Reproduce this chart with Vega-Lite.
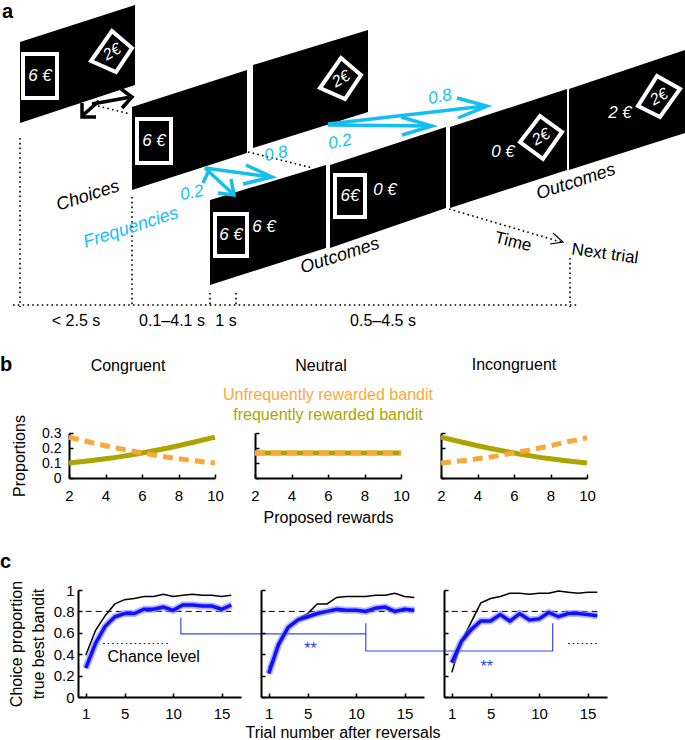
{
"$schema":"https://vega.github.io/schema/vega-lite/v6.json",
"padding":0,
"background":"white",
"bounds":"flush",
"spacing":157,
"config":{
 "view":{"stroke":null},
 "font":"Liberation Sans",
 "axis":{"domainColor":"black","domainWidth":2,"tickColor":"black","tickWidth":1.5,"tickSize":-4,"labelFontSize":15,"labelColor":"black","titleFontSize":16,"titleFontWeight":"normal","titleColor":"black","grid":false,"labelFont":"Liberation Sans","titleFont":"Liberation Sans","format":"~r","labelOverlap":false,"labelFlush":false},
 "title":{"fontSize":16,"fontWeight":"normal","color":"black","font":"Liberation Sans"},
 "text":{"font":"Liberation Sans"}
},
"datasets":{
 "scr":[
  {"id":"S1","x":20,"y":42,"y2":123},{"id":"S1","x":135,"y":5,"y2":85},
  {"id":"S2","x":132,"y":107,"y2":190},{"id":"S2","x":247,"y":70,"y2":153},
  {"id":"S3","x":253,"y":65,"y2":148},{"id":"S3","x":368,"y":30,"y2":112},
  {"id":"S4","x":210,"y":200,"y2":285},{"id":"S4","x":326,"y":165,"y2":248},
  {"id":"S5","x":330,"y":165,"y2":248},{"id":"S5","x":446,"y":127,"y2":208},
  {"id":"S6","x":450,"y":127,"y2":208},{"id":"S6","x":567,"y":89,"y2":170},
  {"id":"S7","x":569,"y":89,"y2":170},{"id":"S7","x":685,"y":50,"y2":133}],
 "cards":[{"x":23,"x2":57,"y":54,"y2":98},{"x":137,"x2":171,"y":119,"y2":163},{"x":215,"x2":247,"y":214,"y2":256},{"x":335,"x2":365,"y":175,"y2":217}],
 "dia":[
  {"id":"D1","ord":1,"x":112,"y":31},{"id":"D1","ord":2,"x":132,"y":48},{"id":"D1","ord":3,"x":116,"y":72},{"id":"D1","ord":4,"x":91,"y":61},{"id":"D1","ord":5,"x":112,"y":31},
  {"id":"D3","ord":1,"x":341,"y":58},{"id":"D3","ord":2,"x":361,"y":75},{"id":"D3","ord":3,"x":345,"y":99},{"id":"D3","ord":4,"x":320,"y":88},{"id":"D3","ord":5,"x":341,"y":58},
  {"id":"D6","ord":1,"x":540,"y":116},{"id":"D6","ord":2,"x":562,"y":132},{"id":"D6","ord":3,"x":543,"y":159},{"id":"D6","ord":4,"x":520,"y":142},{"id":"D6","ord":5,"x":540,"y":116},
  {"id":"D7","ord":1,"x":657,"y":76},{"id":"D7","ord":2,"x":680,"y":89},{"id":"D7","ord":3,"x":660,"y":117},{"id":"D7","ord":4,"x":638,"y":106},{"id":"D7","ord":5,"x":657,"y":76}],
 "arr":[
  {"id":"A1s","g":"k","ord":1,"x":99,"y":101},{"id":"A1s","g":"k","ord":2,"x":82,"y":116},
  {"id":"A1h","g":"k","ord":1,"x":82,"y":103},{"id":"A1h","g":"k","ord":2,"x":82,"y":117},{"id":"A1h","g":"k","ord":3,"x":96,"y":117},
  {"id":"A2s","g":"k","ord":1,"x":92,"y":104},{"id":"A2s","g":"k","ord":2,"x":131,"y":97},
  {"id":"A2h","g":"k","ord":1,"x":121,"y":89},{"id":"A2h","g":"k","ord":2,"x":132,"y":97},{"id":"A2h","g":"k","ord":3,"x":122,"y":108},
  {"id":"C1z","g":"c","ord":1,"x":203,"y":183},{"id":"C1z","g":"c","ord":2,"x":210,"y":168},
  {"id":"C1s","g":"c","ord":1,"x":205,"y":168},{"id":"C1s","g":"c","ord":2,"x":233,"y":194},
  {"id":"C1h","g":"c","ord":1,"x":231,"y":179},{"id":"C1h","g":"c","ord":2,"x":234,"y":195},{"id":"C1h","g":"c","ord":3,"x":218,"y":193},
  {"id":"C2s","g":"c","ord":1,"x":205,"y":168},{"id":"C2s","g":"c","ord":2,"x":270,"y":177},
  {"id":"C2h","g":"c","ord":1,"x":246,"y":165},{"id":"C2h","g":"c","ord":2,"x":272,"y":177},{"id":"C2h","g":"c","ord":3,"x":243,"y":184},
  {"id":"C3s","g":"c","ord":1,"x":328,"y":124},{"id":"C3s","g":"c","ord":2,"x":485,"y":106},
  {"id":"C3h","g":"c","ord":1,"x":457,"y":98},{"id":"C3h","g":"c","ord":2,"x":487,"y":106},{"id":"C3h","g":"c","ord":3,"x":458,"y":118},
  {"id":"C4s","g":"c","ord":1,"x":328,"y":125},{"id":"C4s","g":"c","ord":2,"x":430,"y":126},
  {"id":"C4h","g":"c","ord":1,"x":401,"y":117},{"id":"C4h","g":"c","ord":2,"x":432,"y":126},{"id":"C4h","g":"c","ord":3,"x":402,"y":135},
  {"id":"Th","g":"t","ord":1,"x":553,"y":233},{"id":"Th","g":"t","ord":2,"x":563,"y":242},{"id":"Th","g":"t","ord":3,"x":550,"y":244}],
 "dot":[
  {"id":"H","ord":1,"x":13,"y":305},{"id":"H","ord":2,"x":578,"y":305},
  {"id":"V1","ord":1,"x":20,"y":138},{"id":"V1","ord":2,"x":20,"y":307},
  {"id":"V2","ord":1,"x":132,"y":197},{"id":"V2","ord":2,"x":132,"y":307},
  {"id":"V3","ord":1,"x":210,"y":293},{"id":"V3","ord":2,"x":210,"y":307},
  {"id":"V4","ord":1,"x":236,"y":293},{"id":"V4","ord":2,"x":236,"y":307},
  {"id":"V5","ord":1,"x":570,"y":258},{"id":"V5","ord":2,"x":570,"y":307},
  {"id":"P1","ord":1,"x":248,"y":152},{"id":"P1","ord":2,"x":313,"y":168},
  {"id":"P2","ord":1,"x":98,"y":106},{"id":"P2","ord":2,"x":130,"y":114},
  {"id":"T","ord":1,"x":449,"y":209},{"id":"T","ord":2,"x":561,"y":242}],
 "txt":[
  {"s":"letter","label":"a","x":2,"y":12},
  {"s":"card","label":"6 €","x":40,"y":76},{"s":"card","label":"6 €","x":154,"y":141},{"s":"card","label":"6 €","x":231,"y":235},{"s":"card","label":"6 €","x":264,"y":227},
  {"s":"card","label":"6€","x":350,"y":196},{"s":"card","label":"0 €","x":385,"y":190},{"s":"card","label":"0 €","x":503,"y":152},{"s":"card","label":"2 €","x":620,"y":113},
  {"s":"dia","label":"2€","x":112,"y":52},{"s":"dia","label":"2€","x":341,"y":79},{"s":"dia","label":"2€","x":541,"y":137},{"s":"dia","label":"2€","x":659,"y":97},
  {"s":"tilt","label":"Choices","x":88,"y":196},{"s":"tilt","label":"Outcomes","x":340,"y":256},{"s":"tilt","label":"Outcomes","x":576,"y":182},
  {"s":"freq","label":"Frequencies","x":131,"y":228},
  {"s":"prob","label":"0.2","x":192,"y":193},{"s":"prob","label":"0.8","x":276,"y":154},{"s":"prob","label":"0.2","x":340,"y":142},{"s":"prob","label":"0.8","x":440,"y":97},
  {"s":"time","label":"Time","x":513,"y":242},
  {"s":"next","label":"Next trial","x":605,"y":254},
  {"s":"dur","label":"< 2.5 s","x":76,"y":321},{"s":"dur","label":"0.1–4.1 s","x":172,"y":321},{"s":"dur","label":"1 s","x":226,"y":321},{"s":"dur","label":"0.5–4.5 s","x":383,"y":321}],
 "bd":[
  {"cond":"Congruent","b":"F","r":2,"p":0.100},{"cond":"Congruent","b":"F","r":3,"p":0.113},{"cond":"Congruent","b":"F","r":4,"p":0.128},{"cond":"Congruent","b":"F","r":5,"p":0.146},{"cond":"Congruent","b":"F","r":6,"p":0.167},{"cond":"Congruent","b":"F","r":7,"p":0.190},{"cond":"Congruent","b":"F","r":8,"p":0.215},{"cond":"Congruent","b":"F","r":9,"p":0.243},{"cond":"Congruent","b":"F","r":10,"p":0.272},
  {"cond":"Congruent","b":"U","r":2,"p":0.272},{"cond":"Congruent","b":"U","r":3,"p":0.243},{"cond":"Congruent","b":"U","r":4,"p":0.215},{"cond":"Congruent","b":"U","r":5,"p":0.190},{"cond":"Congruent","b":"U","r":6,"p":0.167},{"cond":"Congruent","b":"U","r":7,"p":0.146},{"cond":"Congruent","b":"U","r":8,"p":0.128},{"cond":"Congruent","b":"U","r":9,"p":0.113},{"cond":"Congruent","b":"U","r":10,"p":0.100},
  {"cond":"Neutral","b":"F","r":2,"p":0.167},{"cond":"Neutral","b":"F","r":4,"p":0.167},{"cond":"Neutral","b":"F","r":6,"p":0.167},{"cond":"Neutral","b":"F","r":8,"p":0.167},{"cond":"Neutral","b":"F","r":10,"p":0.167},
  {"cond":"Neutral","b":"U","r":2,"p":0.167},{"cond":"Neutral","b":"U","r":4,"p":0.167},{"cond":"Neutral","b":"U","r":6,"p":0.167},{"cond":"Neutral","b":"U","r":8,"p":0.167},{"cond":"Neutral","b":"U","r":10,"p":0.167},
  {"cond":"Incongruent","b":"F","r":2,"p":0.272},{"cond":"Incongruent","b":"F","r":3,"p":0.243},{"cond":"Incongruent","b":"F","r":4,"p":0.215},{"cond":"Incongruent","b":"F","r":5,"p":0.190},{"cond":"Incongruent","b":"F","r":6,"p":0.167},{"cond":"Incongruent","b":"F","r":7,"p":0.146},{"cond":"Incongruent","b":"F","r":8,"p":0.128},{"cond":"Incongruent","b":"F","r":9,"p":0.113},{"cond":"Incongruent","b":"F","r":10,"p":0.100},
  {"cond":"Incongruent","b":"U","r":2,"p":0.100},{"cond":"Incongruent","b":"U","r":3,"p":0.113},{"cond":"Incongruent","b":"U","r":4,"p":0.128},{"cond":"Incongruent","b":"U","r":5,"p":0.146},{"cond":"Incongruent","b":"U","r":6,"p":0.167},{"cond":"Incongruent","b":"U","r":7,"p":0.190},{"cond":"Incongruent","b":"U","r":8,"p":0.215},{"cond":"Incongruent","b":"U","r":9,"p":0.243},{"cond":"Incongruent","b":"U","r":10,"p":0.268}],
 "bleg":[{"b":"U","label":"Unfrequently rewarded bandit","r":6,"p":0.553},{"b":"F","label":"frequently rewarded bandit","r":6,"p":0.42}],
 "cd":[
  {"cond":"Congruent","s":"ideal","t":1,"p":0.39},{"cond":"Congruent","s":"ideal","t":2,"p":0.62},{"cond":"Congruent","s":"ideal","t":3,"p":0.76},{"cond":"Congruent","s":"ideal","t":4,"p":0.87},{"cond":"Congruent","s":"ideal","t":5,"p":0.91},{"cond":"Congruent","s":"ideal","t":6,"p":0.92},{"cond":"Congruent","s":"ideal","t":7,"p":0.94},{"cond":"Congruent","s":"ideal","t":8,"p":0.94},{"cond":"Congruent","s":"ideal","t":9,"p":0.96},{"cond":"Congruent","s":"ideal","t":10,"p":0.94},{"cond":"Congruent","s":"ideal","t":11,"p":0.95},{"cond":"Congruent","s":"ideal","t":12,"p":0.96},{"cond":"Congruent","s":"ideal","t":13,"p":0.95},{"cond":"Congruent","s":"ideal","t":14,"p":0.95},{"cond":"Congruent","s":"ideal","t":15,"p":0.94},{"cond":"Congruent","s":"ideal","t":16,"p":0.95},
  {"cond":"Congruent","s":"subj","t":1,"p":0.27},{"cond":"Congruent","s":"subj","t":2,"p":0.50},{"cond":"Congruent","s":"subj","t":3,"p":0.66},{"cond":"Congruent","s":"subj","t":4,"p":0.75},{"cond":"Congruent","s":"subj","t":5,"p":0.78},{"cond":"Congruent","s":"subj","t":6,"p":0.78},{"cond":"Congruent","s":"subj","t":7,"p":0.82},{"cond":"Congruent","s":"subj","t":8,"p":0.82},{"cond":"Congruent","s":"subj","t":9,"p":0.84},{"cond":"Congruent","s":"subj","t":10,"p":0.81},{"cond":"Congruent","s":"subj","t":11,"p":0.86},{"cond":"Congruent","s":"subj","t":12,"p":0.86},{"cond":"Congruent","s":"subj","t":13,"p":0.85},{"cond":"Congruent","s":"subj","t":14,"p":0.85},{"cond":"Congruent","s":"subj","t":15,"p":0.82},{"cond":"Congruent","s":"subj","t":16,"p":0.86},
  {"cond":"Neutral","s":"ideal","t":1,"p":0.27},{"cond":"Neutral","s":"ideal","t":2,"p":0.47},{"cond":"Neutral","s":"ideal","t":3,"p":0.66},{"cond":"Neutral","s":"ideal","t":4,"p":0.73},{"cond":"Neutral","s":"ideal","t":5,"p":0.78},{"cond":"Neutral","s":"ideal","t":6,"p":0.87},{"cond":"Neutral","s":"ideal","t":7,"p":0.87},{"cond":"Neutral","s":"ideal","t":8,"p":0.93},{"cond":"Neutral","s":"ideal","t":9,"p":0.94},{"cond":"Neutral","s":"ideal","t":10,"p":0.94},{"cond":"Neutral","s":"ideal","t":11,"p":0.94},{"cond":"Neutral","s":"ideal","t":12,"p":0.95},{"cond":"Neutral","s":"ideal","t":13,"p":0.95},{"cond":"Neutral","s":"ideal","t":14,"p":0.97},{"cond":"Neutral","s":"ideal","t":15,"p":0.94},{"cond":"Neutral","s":"ideal","t":16,"p":0.93},
  {"cond":"Neutral","s":"subj","t":1,"p":0.22},{"cond":"Neutral","s":"subj","t":2,"p":0.49},{"cond":"Neutral","s":"subj","t":3,"p":0.65},{"cond":"Neutral","s":"subj","t":4,"p":0.72},{"cond":"Neutral","s":"subj","t":5,"p":0.75},{"cond":"Neutral","s":"subj","t":6,"p":0.78},{"cond":"Neutral","s":"subj","t":7,"p":0.80},{"cond":"Neutral","s":"subj","t":8,"p":0.82},{"cond":"Neutral","s":"subj","t":9,"p":0.81},{"cond":"Neutral","s":"subj","t":10,"p":0.81},{"cond":"Neutral","s":"subj","t":11,"p":0.80},{"cond":"Neutral","s":"subj","t":12,"p":0.83},{"cond":"Neutral","s":"subj","t":13,"p":0.84},{"cond":"Neutral","s":"subj","t":14,"p":0.80},{"cond":"Neutral","s":"subj","t":15,"p":0.82},{"cond":"Neutral","s":"subj","t":16,"p":0.81},
  {"cond":"Incongruent","s":"ideal","t":1,"p":0.23},{"cond":"Incongruent","s":"ideal","t":2,"p":0.52},{"cond":"Incongruent","s":"ideal","t":3,"p":0.70},{"cond":"Incongruent","s":"ideal","t":4,"p":0.88},{"cond":"Incongruent","s":"ideal","t":5,"p":0.92},{"cond":"Incongruent","s":"ideal","t":6,"p":0.94},{"cond":"Incongruent","s":"ideal","t":7,"p":0.97},{"cond":"Incongruent","s":"ideal","t":8,"p":0.97},{"cond":"Incongruent","s":"ideal","t":9,"p":0.96},{"cond":"Incongruent","s":"ideal","t":10,"p":0.97},{"cond":"Incongruent","s":"ideal","t":11,"p":0.97},{"cond":"Incongruent","s":"ideal","t":12,"p":0.99},{"cond":"Incongruent","s":"ideal","t":13,"p":0.98},{"cond":"Incongruent","s":"ideal","t":14,"p":0.97},{"cond":"Incongruent","s":"ideal","t":15,"p":0.98},{"cond":"Incongruent","s":"ideal","t":16,"p":0.98},
  {"cond":"Incongruent","s":"subj","t":1,"p":0.32},{"cond":"Incongruent","s":"subj","t":2,"p":0.52},{"cond":"Incongruent","s":"subj","t":3,"p":0.63},{"cond":"Incongruent","s":"subj","t":4,"p":0.71},{"cond":"Incongruent","s":"subj","t":5,"p":0.71},{"cond":"Incongruent","s":"subj","t":6,"p":0.77},{"cond":"Incongruent","s":"subj","t":7,"p":0.71},{"cond":"Incongruent","s":"subj","t":8,"p":0.78},{"cond":"Incongruent","s":"subj","t":9,"p":0.72},{"cond":"Incongruent","s":"subj","t":10,"p":0.73},{"cond":"Incongruent","s":"subj","t":11,"p":0.79},{"cond":"Incongruent","s":"subj","t":12,"p":0.75},{"cond":"Incongruent","s":"subj","t":13,"p":0.78},{"cond":"Incongruent","s":"subj","t":14,"p":0.78},{"cond":"Incongruent","s":"subj","t":15,"p":0.77},{"cond":"Incongruent","s":"subj","t":16,"p":0.76}],
 "cref":[
  {"cond":"Congruent","kind":"crit","t":1,"t2":16,"p":0.8},{"cond":"Neutral","kind":"crit","t":1,"t2":16,"p":0.8},{"cond":"Incongruent","kind":"crit","t":1,"t2":16,"p":0.8},
  {"cond":"Congruent","kind":"chance","t":2.8,"t2":9.7,"p":0.5},{"cond":"Incongruent","kind":"chance","t":13,"t2":16,"p":0.5}],
 "cbr":[
  {"cond":"Congruent","ord":1,"t":10.8,"p":0.74},{"cond":"Congruent","ord":2,"t":10.8,"p":0.59},{"cond":"Congruent","ord":3,"t":29.9,"p":0.59},
  {"cond":"Neutral","ord":1,"t":11.0,"p":0.69},{"cond":"Neutral","ord":2,"t":11.0,"p":0.43},{"cond":"Neutral","ord":3,"t":30.3,"p":0.43},
  {"cond":"Incongruent","ord":1,"t":11.4,"p":0.43},{"cond":"Incongruent","ord":2,"t":11.4,"p":0.69}],
 "cann":[
  {"cond":"Congruent","k":"chance","label":"Chance level","t":8.0,"p":0.374},
  {"cond":"Neutral","k":"star","label":"**","t":5.3,"p":0.45},
  {"cond":"Incongruent","k":"star","label":"**","t":4.6,"p":0.285}]
},
"vconcat":[
 {
  "width":685,"height":276,
  "encoding":{
   "x":{"field":"x","type":"quantitative","scale":{"domain":[0,685],"nice":false,"zero":false},"axis":null},
   "y":{"field":"y","type":"quantitative","scale":{"domain":[0,276],"nice":false,"zero":false,"reverse":true},"axis":null}
  },
  "layer":[
   {"data":{"name":"scr"},"mark":{"type":"area","color":"black","interpolate":"linear"},
    "encoding":{"y":{"field":"y","type":"quantitative","stack":null,"scale":{"domain":[0,276],"nice":false,"zero":false,"reverse":true},"axis":null},"y2":{"field":"y2"},"detail":{"field":"id"}}},
   {"data":{"name":"cards"},"mark":{"type":"rect","fill":"black","stroke":"white","strokeWidth":4},"encoding":{"x2":{"field":"x2"},"y2":{"field":"y2"}}},
   {"data":{"name":"dia"},"mark":{"type":"line","color":"white","strokeWidth":4,"strokeJoin":"miter","strokeCap":"square"},"encoding":{"detail":{"field":"id"},"order":{"field":"ord"}}},
   {"data":{"name":"dot"},"mark":{"type":"line","color":"black","strokeWidth":1.6,"strokeDash":[1.6,3.2]},"encoding":{"detail":{"field":"id"},"order":{"field":"ord"}}},
   {"data":{"name":"arr"},"transform":[{"filter":"datum.g === 'k'"}],"mark":{"type":"line","color":"black","strokeWidth":3.5,"strokeJoin":"miter"},"encoding":{"detail":{"field":"id"},"order":{"field":"ord"}}},
   {"data":{"name":"arr"},"transform":[{"filter":"datum.g === 'c'"}],"mark":{"type":"line","color":"#14BEF0","strokeWidth":3.5,"strokeJoin":"miter"},"encoding":{"detail":{"field":"id"},"order":{"field":"ord"}}},
   {"data":{"name":"arr"},"transform":[{"filter":"datum.g === 't'"}],"mark":{"type":"line","color":"black","strokeWidth":1.2},"encoding":{"detail":{"field":"id"},"order":{"field":"ord"}}},
   {"data":{"name":"txt"},"transform":[{"filter":"datum.s === 'letter'"}],"mark":{"type":"text","color":"black","fontSize":20,"fontWeight":"bold","align":"left","baseline":"middle"},"encoding":{"text":{"field":"label"}}},
   {"data":{"name":"txt"},"transform":[{"filter":"datum.s === 'card'"}],"mark":{"type":"text","color":"white","fontSize":17,"fontStyle":"italic","align":"center","baseline":"middle"},"encoding":{"text":{"field":"label"}}},
   {"data":{"name":"txt"},"transform":[{"filter":"datum.s === 'dia'"}],"mark":{"type":"text","color":"white","fontSize":16,"fontStyle":"italic","align":"center","baseline":"middle","angle":-30},"encoding":{"text":{"field":"label"}}},
   {"data":{"name":"txt"},"transform":[{"filter":"datum.s === 'tilt'"}],"mark":{"type":"text","color":"black","fontSize":18,"fontStyle":"italic","align":"center","baseline":"middle","angle":-18},"encoding":{"text":{"field":"label"}}},
   {"data":{"name":"txt"},"transform":[{"filter":"datum.s === 'freq'"}],"mark":{"type":"text","color":"#14BEF0","fontSize":18,"fontStyle":"italic","align":"center","baseline":"middle","angle":-18},"encoding":{"text":{"field":"label"}}},
   {"data":{"name":"txt"},"transform":[{"filter":"datum.s === 'prob'"}],"mark":{"type":"text","color":"#14BEF0","fontSize":17,"fontStyle":"italic","align":"center","baseline":"middle","angle":-12},"encoding":{"text":{"field":"label"}}},
   {"data":{"name":"txt"},"transform":[{"filter":"datum.s === 'time'"}],"mark":{"type":"text","color":"black","fontSize":17,"align":"center","baseline":"middle","angle":14},"encoding":{"text":{"field":"label"}}},
   {"data":{"name":"txt"},"transform":[{"filter":"datum.s === 'next'"}],"mark":{"type":"text","color":"black","fontSize":17,"align":"center","baseline":"middle","angle":8},"encoding":{"text":{"field":"label"}}},
   {"data":{"name":"txt"},"transform":[{"filter":"datum.s === 'dur'"}],"mark":{"type":"text","color":"black","fontSize":16,"align":"center","baseline":"middle"},"encoding":{"text":{"field":"label"}}}
  ]
 },
 {
  "hconcat":[
   {"width":29,"height":45,"title":{"text":"b","anchor":"start","frame":"group","offset":58,"fontSize":20,"fontWeight":"bold"},"data":{"values":[{}]},"mark":{"type":"text"},"encoding":{"text":{"value":""}}},
   {"width":146,"height":45,
    "title":{"text":"Congruent","offset":41,"dx":-14,"frame":"group"},
    "encoding":{
     "x":{"field":"r","type":"quantitative","scale":{"domain":[2,10],"nice":false,"zero":false},"axis":{"values":[2,4,6,8,10],"title":null,"labelPadding":14}},
     "y":{"field":"p","type":"quantitative","scale":{"domain":[0,0.3],"nice":false,"zero":false},"axis":{"values":[0,0.1,0.2,0.3],"title":"Proportions","labelPadding":12,"titlePadding":14,"labelFontSize":14}},
     "color":{"field":"b","type":"nominal","scale":{"domain":["U","F"],"range":["#F9A93B","#ACA400"]},"legend":null}},
    "layer":[
     {"data":{"name":"bd"},"transform":[{"filter":"datum.cond === 'Congruent' && datum.b === 'F'"}],"mark":{"type":"line","strokeWidth":5,"interpolate":"monotone"}},
     {"data":{"name":"bd"},"transform":[{"filter":"datum.cond === 'Congruent' && datum.b === 'U'"}],"mark":{"type":"line","strokeWidth":5,"strokeDash":[10,6],"interpolate":"monotone"}}
    ]},
   {"width":146,"height":45,
    "title":{"text":"Neutral","offset":13,"dx":-7,"frame":"group"},
    "encoding":{
     "x":{"field":"r","type":"quantitative","scale":{"domain":[2,10],"nice":false,"zero":false},"axis":{"values":[2,4,6,8,10],"title":"Proposed rewards","labelPadding":14,"titlePadding":6}},
     "y":{"field":"p","type":"quantitative","scale":{"domain":[0,0.3],"nice":false,"zero":false},"axis":{"values":[0,0.1,0.2,0.3],"labels":false,"title":null}},
     "color":{"field":"b","type":"nominal","scale":{"domain":["U","F"],"range":["#F9A93B","#ACA400"]},"legend":null}},
    "layer":[
     {"data":{"name":"bd"},"transform":[{"filter":"datum.cond === 'Neutral' && datum.b === 'F'"}],"mark":{"type":"line","strokeWidth":5}},
     {"data":{"name":"bd"},"transform":[{"filter":"datum.cond === 'Neutral' && datum.b === 'U'"}],"mark":{"type":"line","strokeWidth":5,"strokeDash":[10,6]}},
     {"data":{"name":"bleg"},"mark":{"type":"text","fontSize":16,"align":"center","baseline":"middle"},"encoding":{"text":{"field":"label"}}}
    ]},
   {"width":146,"height":45,
    "title":{"text":"Incongruent","offset":54,"frame":"group"},
    "encoding":{
     "x":{"field":"r","type":"quantitative","scale":{"domain":[2,10],"nice":false,"zero":false},"axis":{"values":[2,4,6,8,10],"title":null,"labelPadding":14}},
     "y":{"field":"p","type":"quantitative","scale":{"domain":[0,0.3],"nice":false,"zero":false},"axis":{"values":[0,0.1,0.2,0.3],"labels":false,"title":null}},
     "color":{"field":"b","type":"nominal","scale":{"domain":["U","F"],"range":["#F9A93B","#ACA400"]},"legend":null}},
    "layer":[
     {"data":{"name":"bd"},"transform":[{"filter":"datum.cond === 'Incongruent' && datum.b === 'F'"}],"mark":{"type":"line","strokeWidth":5,"interpolate":"monotone"}},
     {"data":{"name":"bd"},"transform":[{"filter":"datum.cond === 'Incongruent' && datum.b === 'U'"}],"mark":{"type":"line","strokeWidth":5,"strokeDash":[10,6],"interpolate":"monotone"}}
    ]}
  ],
  "spacing":40,
  "bounds":"flush"
 },
 {
  "hconcat":[
   {"width":58,"height":107,"title":{"text":"c","anchor":"start","frame":"group","offset":18,"fontSize":20,"fontWeight":"bold"},"data":{"values":[{}]},"mark":{"type":"text"},"encoding":{"text":{"value":""}}},
   {"width":163,"height":107,
    "encoding":{
     "x":{"field":"t","type":"quantitative","scale":{"domain":[0.2,17],"nice":false,"zero":false},"axis":{"values":[1,5,10,15],"title":null,"labelPadding":13}},
     "y":{"field":"p","type":"quantitative","scale":{"domain":[0,1],"nice":false,"zero":false},"axis":{"values":[0,0.2,0.4,0.6,0.8,1],"title":["Choice proportion","true best bandit"],"labelPadding":8,"titlePadding":7,"titleLineHeight":22}}},
    "layer":[
     {"data":{"name":"cref"},"transform":[{"filter":"datum.cond === 'Congruent' && datum.kind === 'crit'"}],"mark":{"type":"rule","color":"black","strokeWidth":1,"strokeDash":[6,4]},"encoding":{"x2":{"field":"t2"}}},
     {"data":{"name":"cref"},"transform":[{"filter":"datum.cond === 'Congruent' && datum.kind === 'chance'"}],"mark":{"type":"rule","color":"black","strokeWidth":1.2,"strokeDash":[1.5,3]},"encoding":{"x2":{"field":"t2"}}},
     {"data":{"name":"cd"},"transform":[{"filter":"datum.cond === 'Congruent' && datum.s === 'ideal'"}],"mark":{"type":"line","color":"black","strokeWidth":1.5}},
     {"data":{"name":"cd"},"transform":[{"filter":"datum.cond === 'Congruent' && datum.s === 'subj'"}],"mark":{"type":"line","color":"#8080ff","strokeWidth":7,"opacity":0.6}},
     {"data":{"name":"cd"},"transform":[{"filter":"datum.cond === 'Congruent' && datum.s === 'subj'"}],"mark":{"type":"line","color":"#1010ff","strokeWidth":3.5}},
     {"data":{"name":"cbr"},"transform":[{"filter":"datum.cond === 'Congruent'"}],"mark":{"type":"line","color":"#3548ff","strokeWidth":1.2},"encoding":{"order":{"field":"ord"}}},
     {"data":{"name":"cann"},"transform":[{"filter":"datum.cond === 'Congruent'"}],"mark":{"type":"text","fontSize":16,"color":"black","align":"center","baseline":"middle"},"encoding":{"text":{"field":"label"}}}
    ]},
   {"width":163,"height":107,
    "encoding":{
     "x":{"field":"t","type":"quantitative","scale":{"domain":[0.2,17],"nice":false,"zero":false},"axis":{"values":[1,5,10,15],"title":"Trial number after reversals","labelPadding":13,"titlePadding":3}},
     "y":{"field":"p","type":"quantitative","scale":{"domain":[0,1],"nice":false,"zero":false},"axis":{"values":[0,0.2,0.4,0.6,0.8,1],"labels":false,"title":null}}},
    "layer":[
     {"data":{"name":"cref"},"transform":[{"filter":"datum.cond === 'Neutral' && datum.kind === 'crit'"}],"mark":{"type":"rule","color":"black","strokeWidth":1,"strokeDash":[6,4]},"encoding":{"x2":{"field":"t2"}}},
     {"data":{"name":"cd"},"transform":[{"filter":"datum.cond === 'Neutral' && datum.s === 'ideal'"}],"mark":{"type":"line","color":"black","strokeWidth":1.5}},
     {"data":{"name":"cd"},"transform":[{"filter":"datum.cond === 'Neutral' && datum.s === 'subj'"}],"mark":{"type":"line","color":"#8080ff","strokeWidth":7,"opacity":0.6}},
     {"data":{"name":"cd"},"transform":[{"filter":"datum.cond === 'Neutral' && datum.s === 'subj'"}],"mark":{"type":"line","color":"#1010ff","strokeWidth":3.5}},
     {"data":{"name":"cbr"},"transform":[{"filter":"datum.cond === 'Neutral'"}],"mark":{"type":"line","color":"#3548ff","strokeWidth":1.2},"encoding":{"order":{"field":"ord"}}},
     {"data":{"name":"cann"},"transform":[{"filter":"datum.cond === 'Neutral'"}],"mark":{"type":"text","fontSize":16,"color":"#2a3cff","align":"center","baseline":"middle"},"encoding":{"text":{"field":"label"}}}
    ]},
   {"width":163,"height":107,
    "encoding":{
     "x":{"field":"t","type":"quantitative","scale":{"domain":[0.2,17],"nice":false,"zero":false},"axis":{"values":[1,5,10,15],"title":null,"labelPadding":13}},
     "y":{"field":"p","type":"quantitative","scale":{"domain":[0,1],"nice":false,"zero":false},"axis":{"values":[0,0.2,0.4,0.6,0.8,1],"labels":false,"title":null}}},
    "layer":[
     {"data":{"name":"cref"},"transform":[{"filter":"datum.cond === 'Incongruent' && datum.kind === 'crit'"}],"mark":{"type":"rule","color":"black","strokeWidth":1,"strokeDash":[6,4]},"encoding":{"x2":{"field":"t2"}}},
     {"data":{"name":"cref"},"transform":[{"filter":"datum.cond === 'Incongruent' && datum.kind === 'chance'"}],"mark":{"type":"rule","color":"black","strokeWidth":1.2,"strokeDash":[1.5,3]},"encoding":{"x2":{"field":"t2"}}},
     {"data":{"name":"cd"},"transform":[{"filter":"datum.cond === 'Incongruent' && datum.s === 'ideal'"}],"mark":{"type":"line","color":"black","strokeWidth":1.5}},
     {"data":{"name":"cd"},"transform":[{"filter":"datum.cond === 'Incongruent' && datum.s === 'subj'"}],"mark":{"type":"line","color":"#8080ff","strokeWidth":7,"opacity":0.6}},
     {"data":{"name":"cd"},"transform":[{"filter":"datum.cond === 'Incongruent' && datum.s === 'subj'"}],"mark":{"type":"line","color":"#1010ff","strokeWidth":3.5}},
     {"data":{"name":"cbr"},"transform":[{"filter":"datum.cond === 'Incongruent'"}],"mark":{"type":"line","color":"#3548ff","strokeWidth":1.2},"encoding":{"order":{"field":"ord"}}},
     {"data":{"name":"cann"},"transform":[{"filter":"datum.cond === 'Incongruent'"}],"mark":{"type":"text","fontSize":16,"color":"#2a3cff","align":"center","baseline":"middle"},"encoding":{"text":{"field":"label"}}}
    ]}
  ],
  "spacing":20,
  "bounds":"flush"
 }
]
}
